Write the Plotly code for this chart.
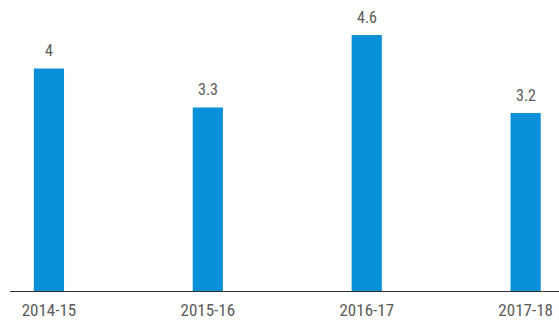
import plotly.graph_objects as go

categories = ["2014-15", "2015-16", "2016-17", "2017-18"]
values = [4, 3.3, 4.6, 3.2]
labels = ["4", "3.3", "4.6", "3.2"]

font_family = "Roboto Condensed, Liberation Sans Narrow, Roboto, sans-serif"

fig = go.Figure(go.Bar(
    x=categories, y=values,
    marker=dict(color="#0A90D8", line=dict(width=0)),
    width=0.19,
))

for c, v, t in zip(categories, values, labels):
    fig.add_annotation(
        x=c, y=v, text=t, showarrow=False, yanchor="bottom", yshift=6,
        font=dict(family=font_family, size=16, color="#5a5a5a"),
    )

fig.update_layout(
    width=559, height=320,
    margin=dict(l=10, r=0, t=10, b=27),
    paper_bgcolor="white", plot_bgcolor="white",
    showlegend=False,
    font=dict(family=font_family),
)
fig.update_xaxes(
    type="category", range=[-0.245, 3.21],
    showline=True, linecolor="#333333", linewidth=1,
    ticks="", showgrid=False, ticklabelstandoff=4,
    tickfont=dict(family=font_family, size=17, color="#5a5a5a"),
)
fig.update_yaxes(range=[0, 5.05], visible=False, showgrid=False, zeroline=False)

fig.write_html("out.html")
